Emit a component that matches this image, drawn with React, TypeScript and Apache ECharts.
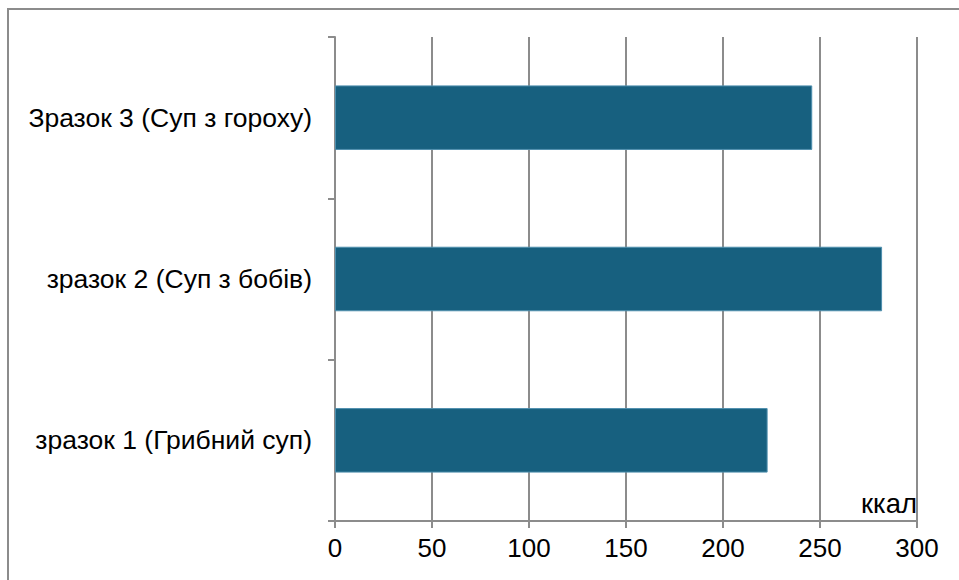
import React, { useEffect, useRef } from "react";
import * as echarts from "echarts";

// Energy value of soup samples, kcal (bottom to top)
const categories = [
  "зразок 1 (Грибний суп)",
  "зразок 2 (Суп з бобів)",
  "Зразок 3 (Суп з гороху)",
];
const kcalValues = [223, 282, 246];
const unitLabel = "ккал";
const axisMin = 0;
const axisMax = 300;
const axisStep = 50;

const GRAY = "#8c8c8c";
const BAR = "#17607f";
const FONT = "'Liberation Sans', Arial, sans-serif";

export default function App() {
  const ref = useRef<HTMLDivElement>(null);

  useEffect(() => {
    if (!ref.current) return;
    const chart = echarts.init(ref.current, undefined, { renderer: "svg" });
    chart.setOption({
      animation: false,
      backgroundColor: "#ffffff",
      textStyle: { fontFamily: FONT },
      grid: { left: 335, right: 42, top: 37, bottom: 59, containLabel: false },
      xAxis: {
        type: "value",
        min: axisMin,
        max: axisMax,
        interval: axisStep,
        axisLine: { show: true, lineStyle: { color: GRAY, width: 2 } },
        axisTick: { show: true, length: 7, lineStyle: { color: GRAY, width: 2 } },
        splitLine: { show: true, lineStyle: { color: GRAY, width: 2 } },
        axisLabel: { color: "#000", fontSize: 26, fontFamily: FONT, margin: 14 },
      },
      yAxis: {
        type: "category",
        data: categories,
        boundaryGap: true,
        axisLine: { show: true, lineStyle: { color: GRAY, width: 2 } },
        axisTick: { show: true, length: 7, lineStyle: { color: GRAY, width: 2 } },
        splitLine: { show: false },
        axisLabel: { color: "#000", fontSize: 26.5, fontFamily: FONT, margin: 23 },
      },
      series: [
        {
          type: "bar",
          data: kcalValues,
          barWidth: "40%",
          itemStyle: { color: BAR, borderColor: "#4f8fae", borderWidth: 1 },
        },
      ],
      graphic: [
        {
          type: "rect",
          shape: { x: 8, y: 9, width: 1000, height: 620 },
          style: { fill: "none", stroke: GRAY, lineWidth: 2 },
          silent: true,
          z: 100,
        },
        {
          type: "text",
          x: 917,
          y: 503,
          style: {
            text: unitLabel,
            fill: "#000",
            font: `27.5px ${FONT}`,
            align: "right",
            verticalAlign: "middle",
          },
          z: 100,
        },
      ],
    });
    return () => chart.dispose();
  }, []);

  return (
    <div
      ref={ref}
      style={{ position: "fixed", left: 0, top: 0, width: 959, height: 580 }}
    />
  );
}
